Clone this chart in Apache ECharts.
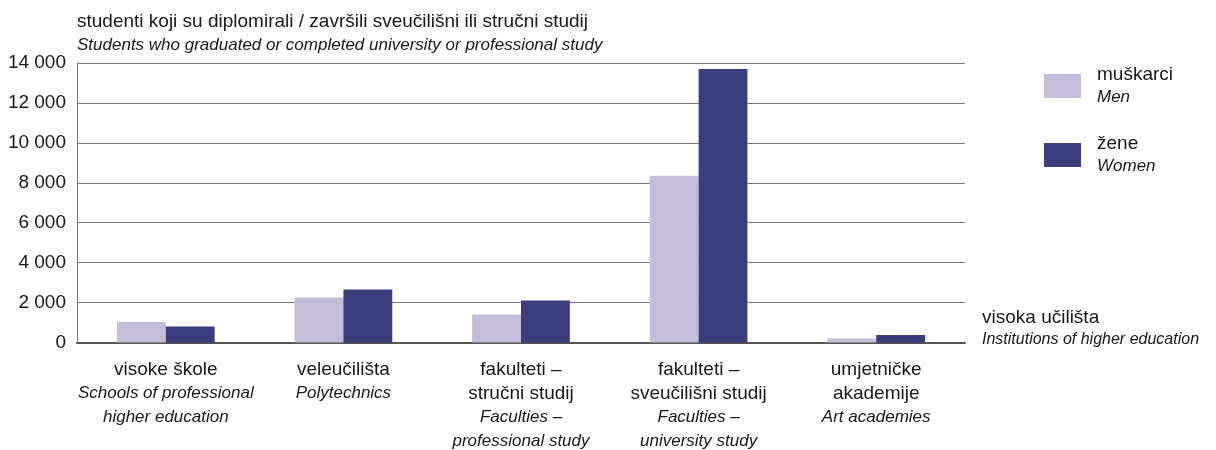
<!DOCTYPE html>
<html>
<head>
<meta charset="utf-8">
<script src="https://cdn.jsdelivr.net/npm/echarts@6/dist/echarts.min.js"></script>
<style>
  html, body { margin: 0; padding: 0; background: #fff; }
  #chart { width: 1216px; height: 450px; }
</style>
</head>
<body>
<div id="chart"></div>
<script>
// kategorije (hr / en)
var categoriesHr = ['visoke škole', 'veleučilišta', 'fakulteti –\nstručni studij', 'fakulteti –\nsveučilišni studij', 'umjetničke\nakademije'];
var categoriesEn = ['Schools of professional\nhigher education', 'Polytechnics', 'Faculties –\nprofessional study', 'Faculties –\nuniversity study', 'Art academies'];
// vrijednosti
var men = [1030, 2250, 1400, 8350, 200];
var women = [800, 2650, 2100, 13700, 375];
var yTicks = [0, 2000, 4000, 6000, 8000, 10000, 12000, 14000];

var font = '"Liberation Sans", Arial, sans-serif';
var ink = '#1a1718';

var myChart = echarts.init(document.getElementById('chart'));

function splitBold(s) {
  return s.split('\n').map(function (l) { return '{b|' + l + '}'; }).join('\n');
}
function splitIt(s) {
  return s.split('\n').map(function (l) { return '{i|' + l + '}'; }).join('\n');
}

var option = {
  animation: false,
  textStyle: { fontFamily: font, color: ink },
  title: [
    {
      text: 'studenti koji su diplomirali / završili sveučilišni ili stručni studij',
      subtext: 'Students who graduated or completed university or professional study',
      left: 72, top: 7,
      itemGap: 6,
      textStyle: { fontFamily: font, fontSize: 19, fontWeight: 'normal', color: ink },
      subtextStyle: { fontFamily: font, fontSize: 17, fontStyle: 'italic', color: ink }
    },
    {
      text: 'visoka učilišta',
      subtext: 'Institutions of higher education',
      left: 977, top: 303,
      itemGap: 5,
      textStyle: { fontFamily: font, fontSize: 19, fontWeight: 'normal', color: ink },
      subtextStyle: { fontFamily: font, fontSize: 16, fontStyle: 'italic', color: ink }
    }
  ],
  legend: {
    orient: 'vertical',
    left: 1039, top: 60,
    itemWidth: 37, itemHeight: 24,
    itemGap: 28,
    icon: 'rect',
    formatter: function (name) {
      var en = name === 'muškarci' ? 'Men' : 'Women';
      return '{b|' + name + '}\n{i|' + en + '}';
    },
    textStyle: {
      fontFamily: font,
      padding: [0, 0, 0, 11],
      rich: {
        b: { fontFamily: font, fontSize: 19, color: ink, lineHeight: 23 },
        i: { fontFamily: font, fontSize: 17, fontStyle: 'italic', color: ink, lineHeight: 23 }
      }
    }
  },
  grid: { left: 77, right: 251, top: 63, bottom: 107 },
  xAxis: {
    type: 'category',
    data: categoriesHr,
    axisTick: { show: false },
    axisLine: { lineStyle: { color: '#555', width: 2 } },
    axisLabel: {
      margin: 15,
      interval: 0,
      formatter: function (v, i) {
        return splitBold(v) + '\n' + splitIt(categoriesEn[i]);
      },
      rich: {
        b: { fontFamily: font, fontSize: 19, color: ink, lineHeight: 24 },
        i: { fontFamily: font, fontSize: 17, fontStyle: 'italic', color: ink, lineHeight: 24 }
      }
    }
  },
  yAxis: {
    type: 'value',
    min: 0, max: 14000, interval: 2000,
    axisLine: { show: true, lineStyle: { color: '#777', width: 1 } },
    axisTick: { show: false },
    splitLine: { lineStyle: { color: '#777', width: 1 } },
    axisLabel: {
      margin: 11,
      fontFamily: font, fontSize: 19, color: ink,
      formatter: function (v) {
        return yTicks.indexOf(v) < 0 ? '' : String(v).replace(/\B(?=(\d{3})+(?!\d))/g, ' ');
      }
    }
  },
  series: [
    {
      name: 'muškarci',
      type: 'bar',
      data: men,
      barGap: '0%',
      barCategoryGap: '45%',
      itemStyle: { color: '#c4bcdb' }
    },
    {
      name: 'žene',
      type: 'bar',
      data: women,
      itemStyle: { color: '#3a3e7e' }
    }
  ]
};

myChart.setOption(option);
</script>
</body>
</html>
